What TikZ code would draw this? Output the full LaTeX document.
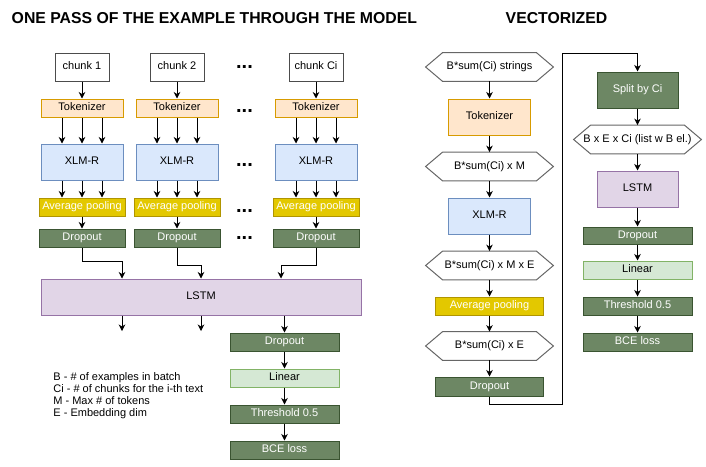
\documentclass[tikz,border=0pt]{standalone}
\usepackage{fontspec}
\setmainfont{Liberation Sans}
\usetikzlibrary{arrows.meta}
\definecolor{tokfill}{HTML}{FFE6CC}\definecolor{tokline}{HTML}{D79B00}
\definecolor{xlmfill}{HTML}{DAE8FC}\definecolor{xlmline}{HTML}{6C8EBF}
\definecolor{avgfill}{HTML}{E3C800}\definecolor{avgline}{HTML}{B09500}
\definecolor{dropfill}{HTML}{6D8764}\definecolor{dropline}{HTML}{3A5431}
\definecolor{lstmfill}{HTML}{E1D5E7}\definecolor{lstmline}{HTML}{9673A6}
\definecolor{linfill}{HTML}{D5E8D4}\definecolor{linline}{HTML}{82B366}
\tikzset{
  box/.style={draw, rectangle, inner sep=0pt, line width=1pt, text height=8pt, text depth=2.3pt},
  chunk/.style={box, draw=black!70, fill=white, minimum width=54pt, minimum height=28pt},
  tok/.style={box, draw=tokline, fill=tokfill},
  xlm/.style={box, draw=xlmline, fill=xlmfill},
  avg/.style={box, draw=avgline, fill=avgfill, text=white},
  drop/.style={box, draw=dropline, fill=dropfill, text=white},
  lstm/.style={box, draw=lstmline, fill=lstmfill},
  lin/.style={box, draw=linline, fill=linfill},
  hexa/.style={inner sep=0pt, minimum width=127pt, minimum height=28pt, text height=8pt, text depth=2.3pt},
  hexline/.style={draw=black!60, line width=1pt},
  dots/.style={font=\fontsize{20}{20}\selectfont\bfseries, anchor=base, inner sep=0pt},
  heading/.style={font=\fontsize{15.8}{18}\selectfont\bfseries}
}
\begin{document}
\begin{tikzpicture}[x=1pt,y=-1pt, line width=0.8pt,
    every node/.style={font=\fontsize{11}{13}\selectfont},
    >={Stealth[length=6.5pt,width=6.5pt,inset=2pt]}]
\useasboundingbox (0,0) rectangle (706,466);
\node[heading, anchor=west] (title1) at (8,18.5) {ONE PASS OF THE EXAMPLE THROUGH THE MODEL};
\node[heading] (title2) at (556.5,18.5) {VECTORIZED};

% one pass, chunk by chunk
\foreach \x/\n/\t in {82/1/1, 177/2/2, 316/3/Ci}{
  \node[chunk] (c\n) at (\x,67) {chunk \t};
  \node[tok, minimum width=82pt, minimum height=18pt] (t\n) at (\x,108) {Tokenizer};
  \node[xlm, minimum width=82pt, minimum height=36pt] (x\n) at (\x,162) {XLM-R};
  \node[avg, minimum width=86pt, minimum height=18pt] (a\n) at (\x,207) {Average pooling};
  \node[drop, minimum width=86pt, minimum height=18pt] (d\n) at (\x,238) {Dropout};
  \draw[->] (c\n) -- (t\n);
  \foreach \s in {-20,0,20}{
    \draw[->] ([xshift=\s pt]t\n.south) -- ([xshift=\s pt]x\n.north);
    \draw[->] ([xshift=\s pt]x\n.south) -- ([xshift=\s pt]a\n.north);
  }
  \draw[->] (a\n) -- (d\n);
}
\foreach \y in {66,110,164,210,237}
  \node[dots] (dots\y) at (244.5,\y+2) {...};

\node[lstm, minimum width=320pt, minimum height=36pt] (lstm) at (201,297) {LSTM};
\draw[->] (d1.south) -- ++(0,14) -| ([xshift=-79pt]lstm.north);
\draw[->] (d2.south) -- ++(0,18) -| (lstm.north);
\draw[->] (d3.south) -- ++(0,18) -| ([xshift=80pt]lstm.north);

\coordinate (o1) at (122,331);
\coordinate (o2) at (201,331);
\draw[->] ([xshift=-79pt]lstm.south) -- (o1);
\draw[->] (lstm.south) -- (o2);

\node[drop, minimum width=109pt, minimum height=18pt] (d4) at (284.5,342) {Dropout};
\node[lin, minimum width=109pt, minimum height=18pt] (l4) at (284.5,378) {Linear};
\node[drop, minimum width=109pt, minimum height=18pt] (th4) at (284.5,414) {Threshold 0.5};
\node[drop, minimum width=109pt, minimum height=18pt] (bce4) at (284.5,450) {BCE loss};
\draw[->] (lstm.south -| d4.north) -- (d4.north);
\draw[->] (d4) -- (l4);
\draw[->] (l4) -- (th4);
\draw[->] (th4) -- (bce4);

\node[anchor=west, align=left, inner sep=0pt, font=\fontsize{11}{12}\selectfont] (legend) at (53,396)
  {B - \# of examples in batch\\Ci - \# of chunks for the i-th text\\M - Max \# of tokens\\E - Embedding dim};

% vectorized
\node[hexa] (h1) at (489.5,67) {B*sum(Ci) strings};
\node[tok, minimum width=82pt, minimum height=36pt] (vt) at (489.5,117) {Tokenizer};
\node[hexa] (h2) at (489.5,166.5) {B*sum(Ci) x M};
\node[xlm, minimum width=82pt, minimum height=36pt] (vx) at (489.5,216) {XLM-R};
\node[hexa] (h3) at (489.5,265.5) {B*sum(Ci) x M x E};
\node[avg, minimum width=108pt, minimum height=18pt] (va) at (489.5,306) {Average pooling};
\node[hexa] (h4) at (489.5,346) {B*sum(Ci) x E};
\node[drop, minimum width=108pt, minimum height=19pt] (vd) at (489.5,386.5) {Dropout};

\node[drop, minimum width=81pt, minimum height=36pt] (split) at (637.5,90) {Split by Ci};
\node[hexa] (h5) at (637.5,139.5) {B x E x Ci (list w B el.)};
\node[lstm, minimum width=81pt, minimum height=36pt] (vl) at (637.5,189) {LSTM};
\node[drop, minimum width=109pt, minimum height=17pt] (vd2) at (637.5,235.5) {Dropout};
\node[lin, minimum width=109pt, minimum height=18pt] (vlin) at (637.5,270) {Linear};
\node[drop, minimum width=109pt, minimum height=18pt] (vth) at (637.5,306) {Threshold 0.5};
\node[drop, minimum width=109pt, minimum height=18pt] (vbce) at (637.5,342) {BCE loss};

\foreach \h in {h1,h2,h3,h4,h5}
  \draw[hexline] (\h.west) -- ([xshift=17pt]\h.north west) -- ([xshift=-17pt]\h.north east)
    -- (\h.east) -- ([xshift=-17pt]\h.south east) -- ([xshift=17pt]\h.south west) -- cycle;

\foreach \a/\b in {h1/vt, vt/h2, h2/vx, vx/h3, h3/va, va/h4, h4/vd,
                   split/h5, h5/vl, vl/vd2, vd2/vlin, vlin/vth, vth/vbce}
  \draw[->] (\a) -- (\b);

\coordinate (turn) at (562,53);
\draw[->] (vd.south) -- ++(0,8) -| (turn) -| (split.north);
\end{tikzpicture}
\end{document}
